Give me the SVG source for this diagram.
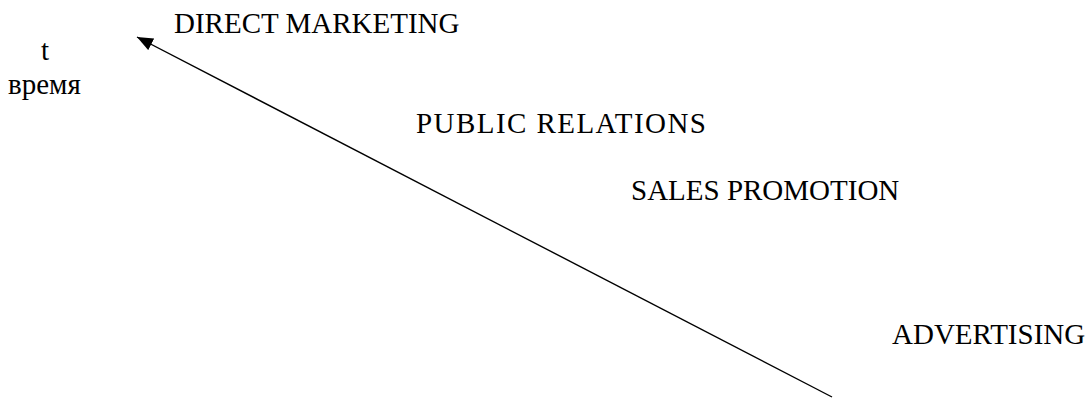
<svg xmlns="http://www.w3.org/2000/svg" width="1090" height="398" viewBox="0 0 1090 398">
<style>
text{font-family:"Liberation Serif","Times New Roman",serif;font-size:29px;fill:#000}
.c{stroke:#000;stroke-width:1.4;fill:none}
</style>
<defs>
<marker id="ah" markerUnits="userSpaceOnUse" markerWidth="20" markerHeight="16" refX="16" refY="6.5" orient="auto">
<path d="M0,0 L16,6.5 L0,13 Z" fill="#000"/>
</marker>
</defs>
<rect width="1090" height="398" fill="#fff"/>
<g id="axis-label">
<text x="41" y="60">t</text>
<text x="8" y="94">время</text>
</g>
<g id="direct-marketing"><text x="174" y="33">DIRECT MARKETING</text></g>
<g id="public-relations"><text x="416" y="133" textLength="290" lengthAdjust="spacing">PUBLIC RELATIONS</text></g>
<g id="sales-promotion"><text x="631" y="200">SALES PROMOTION</text></g>
<g id="advertising"><text x="892" y="344">ADVERTISING</text></g>
<g id="connectors">
<line class="c" x1="832" y1="397" x2="137" y2="37" marker-end="url(#ah)"/>
</g>
</svg>
